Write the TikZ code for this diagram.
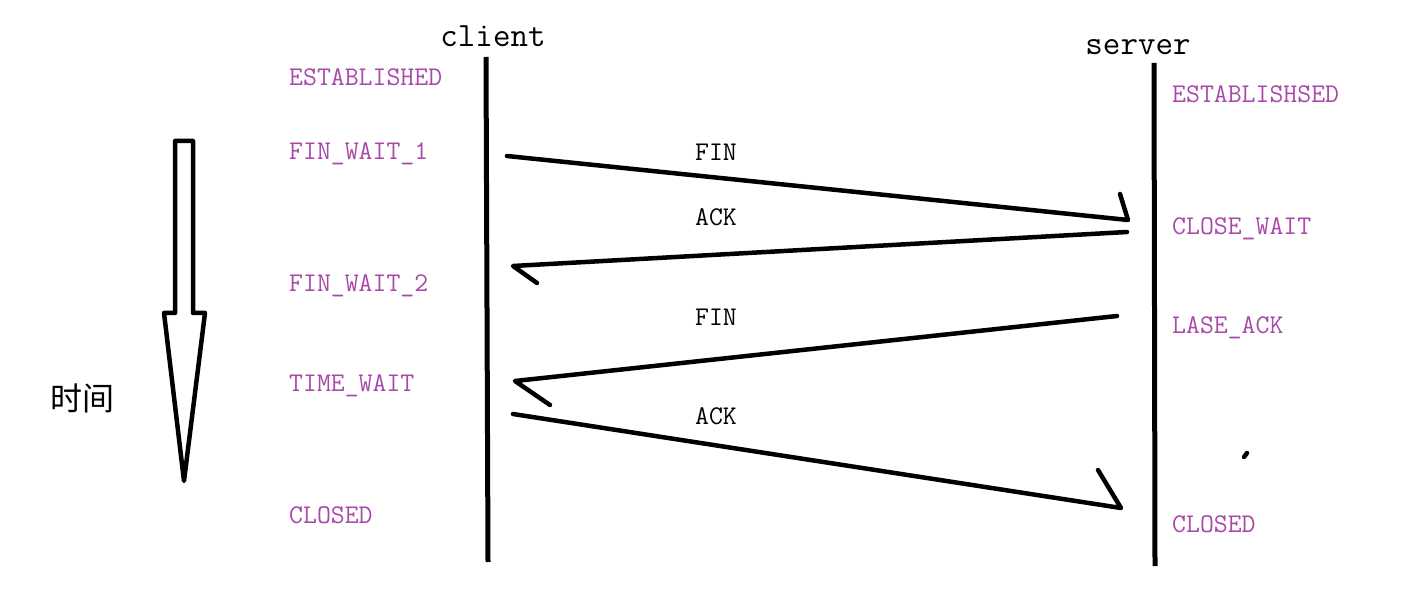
\documentclass[tikz,border=0pt]{standalone}
\usepackage{fontspec}
\usepackage{xcolor}
\newfontfamily\cjk{Noto Sans CJK SC}
\definecolor{statecol}{RGB}{168,72,168}
\tikzset{
  state/.style={anchor=base west,text=statecol,inner sep=0pt,font=\fontsize{27}{29}\selectfont\ttfamily},
  msglabel/.style={anchor=base,inner sep=0pt,font=\fontsize{27}{29}\selectfont\ttfamily},
  host/.style={anchor=base,inner sep=0pt,font=\fontsize{34}{36}\selectfont\ttfamily},
  lifeline/.style={line width=5pt},
  msg/.style={line width=4.5pt,line cap=round,line join=round}
}

\begin{document}
\begin{tikzpicture}[x=1pt,y=-1pt]
\useasboundingbox (0,0) rectangle (1415,609);
\node[host] (client) at (493,47) {client};
\node[host] (server) at (1138,55) {server};
\coordinate (ctop) at (486,57);
\coordinate (cbot) at (488,562);
\coordinate (stop) at (1154,63);
\coordinate (sbot) at (1155,566);
\draw[lifeline] (ctop) -- (cbot);
\draw[lifeline] (stop) -- (sbot);
\node[state] (cest) at (289,86) {ESTABLISHED};
\node[state] (cfw1) at (289,160) {FIN\_WAIT\_1};
\node[state] (cfw2) at (289,292) {FIN\_WAIT\_2};
\node[state] (ctw) at (289,391) {TIME\_WAIT};
\node[state] (ccl) at (289,523) {CLOSED};
\node[state] (sest) at (1172,103) {ESTABLISHSED};
\node[state] (scw) at (1172,235) {CLOSE\_WAIT};
\node[state] (sla) at (1172,334) {LASE\_ACK};
\node[state] (scl) at (1172,532) {CLOSED};
\coordinate (m1a) at (507,156);
\coordinate (m1b) at (1128,220);
\coordinate (m1c) at (1120,194);
\coordinate (m2a) at (1127,232);
\coordinate (m2b) at (513,266);
\coordinate (m2c) at (537,283);
\coordinate (m3a) at (1117,316);
\coordinate (m3b) at (515,381);
\coordinate (m3c) at (550,405);
\coordinate (m4a) at (513,414);
\coordinate (m4b) at (1121,508);
\coordinate (m4c) at (1098,470);
\draw[msg] (m1a) -- (m1b) -- (m1c);
\draw[msg] (m2a) -- (m2b) -- (m2c);
\draw[msg] (m3a) -- (m3b) -- (m3c);
\draw[msg] (m4a) -- (m4b) -- (m4c);
\node[msglabel] (fin1) at (716,161) {FIN};
\node[msglabel] (ack1) at (716,226) {ACK};
\node[msglabel] (fin2) at (716,326) {FIN};
\node[msglabel] (ack2) at (716,424) {ACK};
\draw[msg] (1244,457) -- (1247,453);
\draw[line width=4.5pt,line join=round] (175,141) -- (193,141) -- (193,313) -- (205,313) -- (184,481) -- (164,313) -- (175,313) -- cycle;
\node[font=\fontsize{32}{34}\selectfont\cjk] (time) at (82,398) {时间};
\end{tikzpicture}
\end{document}
